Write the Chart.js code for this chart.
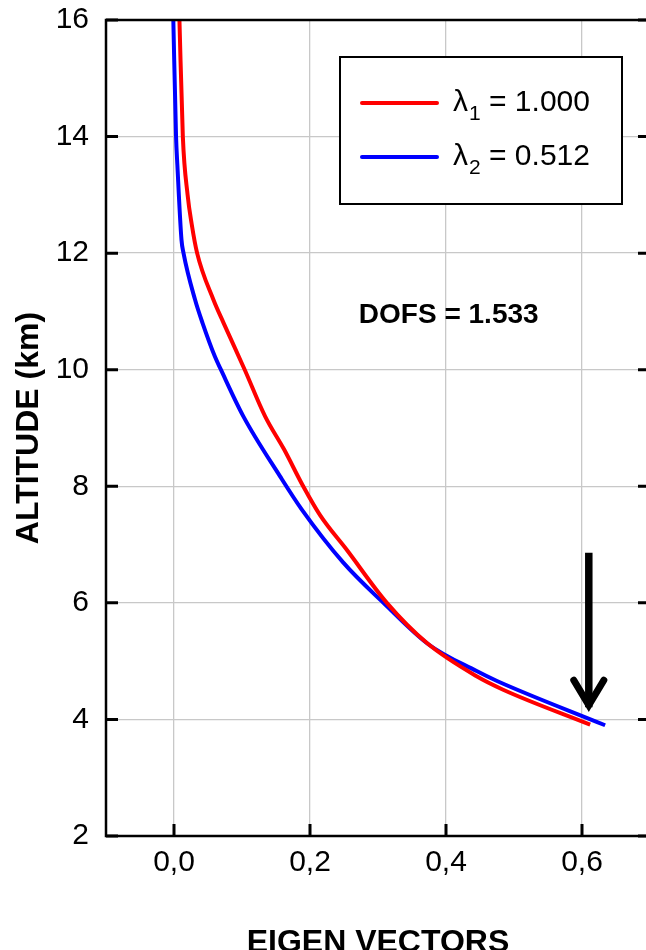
<!DOCTYPE html>
<html>
<head>
<meta charset="utf-8">
<script src="https://cdn.jsdelivr.net/npm/chart.js@4.4.1/dist/chart.umd.min.js"></script>
<style>
  html, body { margin: 0; padding: 0; overflow: hidden; background: #fff; }
</style>
</head>
<body>
<canvas id="myChart" width="652" height="960"></canvas>
<script>
// eigen vector 1 (red), altitude in km
var redAlt = [16.0, 14.0, 13.0, 12.5, 12.0, 11.2, 10.8, 10.0, 9.2, 8.63, 8.0, 7.5, 6.91, 6.0, 5.31, 4.74, 4.51, 3.91];
var redVec = [0.008, 0.013, 0.020, 0.026, 0.034, 0.058, 0.073, 0.104, 0.134, 0.162, 0.190, 0.215, 0.254, 0.313, 0.372, 0.445, 0.484, 0.612];
// eigen vector 2 (blue)
var blueAlt = [16.0, 14.0, 13.5, 12.23, 12.0, 11.2, 10.8, 10.23, 10.0, 9.2, 8.17, 7.6, 6.69, 6.0, 5.29, 4.83, 4.66, 3.90];
var blueVec = [-0.001, 0.003, 0.005, 0.011, 0.014, 0.031, 0.042, 0.060, 0.069, 0.102, 0.156, 0.188, 0.249, 0.308, 0.374, 0.445, 0.475, 0.634];

var legendSub = ['1', '2'];
var legendVal = ['1.000', '0.512'];
var seriesColors = ['#ff0000', '#0000ff'];

var xTickValues = [0.0, 0.2, 0.4, 0.6];
var xTickLabels = ['0,0', '0,2', '0,4', '0,6'];
var yTickValues = [2, 4, 6, 8, 10, 12, 14, 16];

var dofsText = 'DOFS = 1.533';
var dofsAt = [0.404, 10.93];
// arrow: x, top altitude, tip altitude
var arrowX = 0.61, arrowTop = 6.86, arrowTip = 4.14;

var FONT = '"Liberation Sans", Arial, sans-serif';

function toPoints(xs, ys) {
  var pts = [];
  for (var i = 0; i < xs.length; i++) pts.push({x: xs[i], y: ys[i]});
  return pts;
}

var decorPlugin = {
  id: 'decor',
  afterDraw: function (chart) {
    var ctx = chart.ctx, a = chart.chartArea;
    var xs = chart.scales.x, ys = chart.scales.y;
    ctx.save();
    // frame
    ctx.strokeStyle = '#000';
    ctx.lineWidth = 2.5;
    ctx.strokeRect(a.left, a.top, a.right - a.left, a.bottom - a.top);
    // inward ticks
    ctx.lineWidth = 3;
    ctx.beginPath();
    yTickValues.forEach(function (v) {
      var py = ys.getPixelForValue(v);
      ctx.moveTo(a.left, py); ctx.lineTo(a.left + 12, py);
      ctx.moveTo(a.right, py); ctx.lineTo(a.right - 12, py);
    });
    xTickValues.forEach(function (v) {
      var px = xs.getPixelForValue(v);
      ctx.moveTo(px, a.bottom); ctx.lineTo(px, a.bottom - 12);
    });
    ctx.stroke();

    // legend box
    var bx = a.right - 310, by = a.top + 37, bw = 282, bh = 147;
    ctx.fillStyle = '#fff';
    ctx.fillRect(bx, by, bw, bh);
    ctx.lineWidth = 2;
    ctx.strokeRect(bx, by, bw, bh);
    for (var i = 0; i < legendVal.length; i++) {
      var ly = by + 46 + i * 54;
      ctx.strokeStyle = seriesColors[i];
      ctx.lineWidth = 4;
      ctx.lineCap = 'round';
      ctx.beginPath();
      ctx.moveTo(bx + 22, ly); ctx.lineTo(bx + 97, ly);
      ctx.stroke();
      ctx.fillStyle = '#000';
      ctx.textBaseline = 'alphabetic';
      ctx.textAlign = 'left';
      var tx = bx + 113;
      ctx.font = '30px ' + FONT;
      ctx.fillText('\u03bb', tx, ly + 8);
      tx += ctx.measureText('\u03bb').width + 1;
      ctx.font = '21px ' + FONT;
      ctx.fillText(legendSub[i], tx, ly + 17);
      tx += ctx.measureText(legendSub[i]).width;
      ctx.font = '30px ' + FONT;
      ctx.fillText(' = ' + legendVal[i], tx, ly + 8);
    }

    // DOFS label
    ctx.fillStyle = '#000';
    ctx.font = 'bold 28px ' + FONT;
    ctx.textAlign = 'center';
    ctx.textBaseline = 'middle';
    ctx.fillText(dofsText, xs.getPixelForValue(dofsAt[0]), ys.getPixelForValue(dofsAt[1]));

    // arrow
    var ax = xs.getPixelForValue(arrowX);
    var at = ys.getPixelForValue(arrowTop);
    var ab = ys.getPixelForValue(arrowTip);
    ctx.strokeStyle = '#000';
    ctx.lineCap = 'butt';
    ctx.lineWidth = 7.5;
    ctx.beginPath();
    ctx.moveTo(ax, at); ctx.lineTo(ax, ab - 4);
    ctx.stroke();
    ctx.lineWidth = 7;
    ctx.lineJoin = 'miter';
    ctx.lineCap = 'round';
    ctx.beginPath();
    ctx.moveTo(ax - 15, ab - 31);
    ctx.lineTo(ax, ab - 6);
    ctx.lineTo(ax + 15, ab - 31);
    ctx.stroke();
    ctx.restore();
  }
};

var ctx = document.getElementById('myChart').getContext('2d');
var myChart = new Chart(ctx, {
  type: 'scatter',
  data: {
    datasets: [{
      label: 'lambda1',
      data: toPoints(redVec, redAlt),
      showLine: true,
      borderColor: seriesColors[0],
      borderWidth: 4,
      pointRadius: 0,
      cubicInterpolationMode: 'monotone'
    }, {
      label: 'lambda2',
      data: toPoints(blueVec, blueAlt),
      showLine: true,
      borderColor: seriesColors[1],
      borderWidth: 4,
      pointRadius: 0,
      cubicInterpolationMode: 'monotone'
    }]
  },
  options: {
    responsive: false,
    animation: false,
    layout: { padding: { top: 20, right: 2, left: 0, bottom: 0 } },
    plugins: { legend: { display: false }, tooltip: { enabled: false } },
    scales: {
      x: {
        type: 'linear',
        min: -0.1,
        max: 0.7,
        afterBuildTicks: function (s) { s.ticks = xTickValues.map(function (v) { return {value: v}; }); },
        afterFit: function (s) { s.height = 124; s.paddingLeft = 0; s.paddingRight = 0; },
        border: { display: false },
        grid: { color: '#c8c8c8', lineWidth: 1.3, drawTicks: false },
        ticks: {
          padding: 9,
          color: '#000',
          font: { family: FONT, size: 30 },
          callback: function (v) { return xTickLabels[xTickValues.indexOf(v)]; }
        },
        title: {
          display: true,
          text: 'EIGEN VECTORS',
          color: '#000',
          font: { family: FONT, size: 32, weight: 'bold', lineHeight: 1 },
          padding: { top: 0, bottom: 1 }
        }
      },
      y: {
        type: 'linear',
        min: 2,
        max: 16,
        afterBuildTicks: function (s) { s.ticks = yTickValues.map(function (v) { return {value: v}; }); },
        afterFit: function (s) { s.width = 106; s.paddingTop = 0; s.paddingBottom = 0; },
        border: { display: false },
        grid: { color: '#c8c8c8', lineWidth: 1.3, drawTicks: false },
        ticks: {
          padding: 17,
          color: '#000',
          font: { family: FONT, size: 30 }
        },
        title: {
          display: true,
          text: 'ALTITUDE (km)',
          color: '#000',
          font: { family: FONT, size: 32, weight: 'bold', lineHeight: 1 },
          padding: { top: 13, bottom: 0 }
        }
      }
    }
  },
  plugins: [decorPlugin]
});
</script>
</body>
</html>
